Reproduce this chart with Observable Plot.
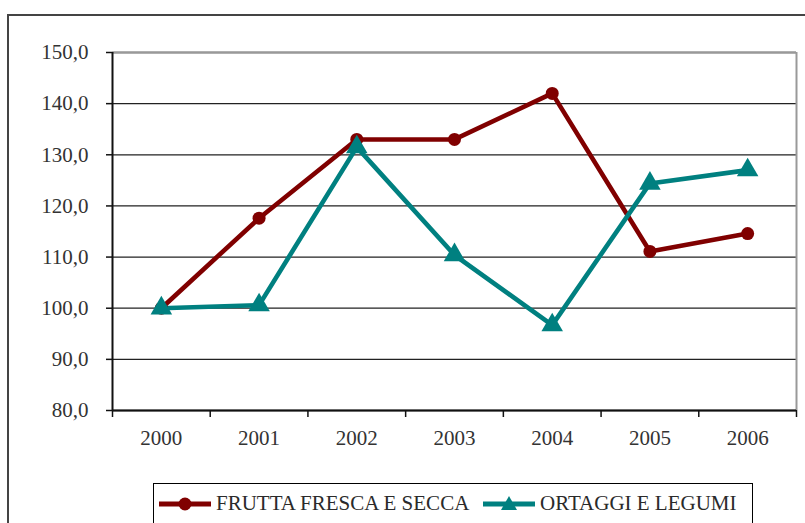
<!DOCTYPE html>
<html>
<head>
<meta charset="utf-8">
<script src="https://cdn.jsdelivr.net/npm/d3@7"></script>
<script src="https://cdn.jsdelivr.net/npm/@observablehq/plot@0.6"></script>
<style>
  html, body { margin: 0; padding: 0; background: #fff; }
  body { width: 805px; height: 523px; overflow: hidden; position: relative; font-family: "Liberation Serif", "Times New Roman", serif; }
  #frame { position: absolute; left: 7px; top: 14px; width: 900px; height: 700px; border: 2px solid #444; box-sizing: border-box; pointer-events: none; }
  #chart { position: absolute; left: 0; top: 0; }
  #legend { position: absolute; left: 153px; top: 483px; width: 600px; height: 60px; border: 1px solid #000; box-sizing: border-box; background: #fff; }
  .item { position: absolute; top: 7px; display: flex; align-items: center; font-size: 21px; color: #2a2a2a; white-space: nowrap; }
  .item svg { margin-right: 3px; }
</style>
</head>
<body>
<div id="chart"></div>
<div id="frame"></div>
<div id="legend"></div>
<script>
const years = [2000, 2001, 2002, 2003, 2004, 2005, 2006];
const frutta = [100.0, 117.6, 133.0, 133.0, 142.0, 111.1, 114.6];
const ortaggi = [100.0, 100.6, 131.5, 110.4, 96.7, 124.4, 127.0];
const seriesNames = ["FRUTTA FRESCA E SECCA", "ORTAGGI E LEGUMI"];
const colors = ["#800000", "#008080"];
const yTicks = [80, 90, 100, 110, 120, 130, 140, 150];

const data = [];
years.forEach((y, i) => {
  data.push({year: y, value: frutta[i], serie: seriesNames[0]});
  data.push({year: y, value: ortaggi[i], serie: seriesNames[1]});
});
const bounds = years.map(y => y - 0.5).concat([years[years.length - 1] + 0.5]);
const fmt = d => d.toFixed(1).replace(".", ",");

const chart = Plot.plot({
  width: 805,
  height: 523,
  marginLeft: 112,
  marginRight: 9,
  marginTop: 52,
  marginBottom: 113,
  style: {fontFamily: "Liberation Serif, Times New Roman, serif", fontSize: "21px", color: "#2a2a2a", background: "transparent"},
  x: {domain: [bounds[0], bounds[bounds.length - 1]], label: null},
  y: {domain: [80, 150], label: null},
  color: {domain: seriesNames, range: colors},
  marks: [
    Plot.gridY(yTicks, {stroke: "#222", strokeOpacity: 1, strokeWidth: 1.3}),
    Plot.ruleY([150], {stroke: "#999", strokeWidth: 2}),
    Plot.ruleX([bounds[bounds.length - 1]], {stroke: "#999", strokeWidth: 2}),
    Plot.ruleY([80], {stroke: "#111", strokeWidth: 2}),
    Plot.ruleX([bounds[0]], {stroke: "#111", strokeWidth: 2}),
    Plot.axisY(yTicks, {tickSize: 6, tickPadding: 18, tickFormat: fmt, stroke: "#111", strokeWidth: 1.5, fill: "#333", label: null}),
    Plot.axisX(bounds, {tickSize: 7, tickFormat: () => "", stroke: "#111", strokeWidth: 1.5, label: null}),
    Plot.axisX(years, {tickSize: 0, tickPadding: 20, tickFormat: d => String(d), fill: "#333", label: null}),
    Plot.line(data, {x: "year", y: "value", z: "serie", stroke: "serie", strokeWidth: 4.6, strokeLinejoin: "round"}),
    Plot.dot(data.filter(d => d.serie === seriesNames[0]), {x: "year", y: "value", fill: colors[0], r: 6.5, symbol: "circle"}),
    Plot.dot(data.filter(d => d.serie === seriesNames[1]), {x: "year", y: "value", fill: colors[1], r: 8, symbol: "triangle"})
  ]
});
document.getElementById("chart").appendChild(chart);

// Legend
const legend = document.getElementById("legend");
const positions = [3, 327];
seriesNames.forEach((name, i) => {
  const div = document.createElement("div");
  div.className = "item";
  div.style.left = positions[i] + "px";
  const marker = i === 0
    ? `<circle cx="28" cy="12" r="6.5" fill="${colors[i]}"/>`
    : `<path d="M28,4 L36,18 L20,18 Z" fill="${colors[i]}"/>`;
  div.innerHTML = `<svg width="56" height="24"><line x1="2" x2="54" y1="12" y2="12" stroke="${colors[i]}" stroke-width="5"/>${marker}</svg><span>${name}</span>`;
  legend.appendChild(div);
});
</script>
</body>
</html>
